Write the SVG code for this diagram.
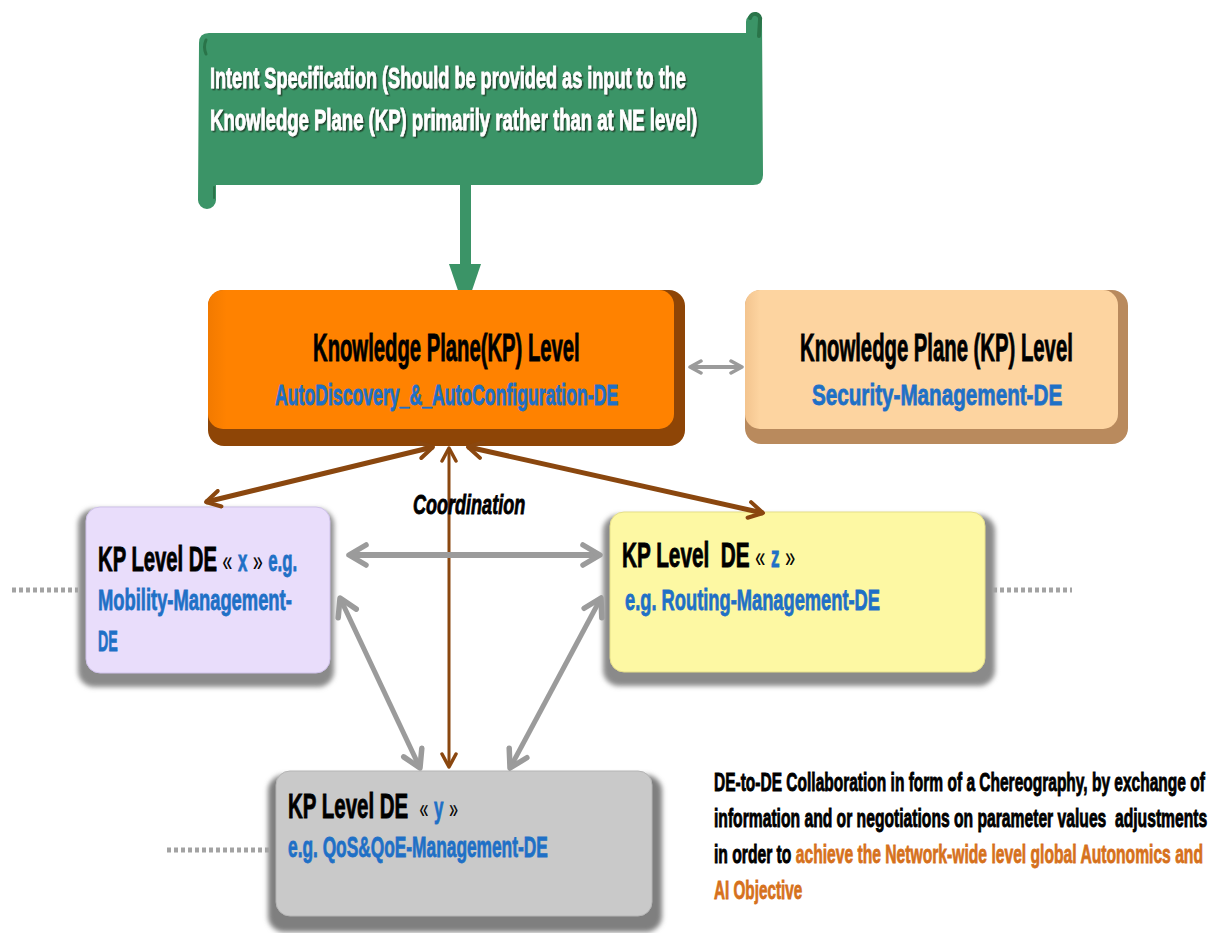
<svg xmlns="http://www.w3.org/2000/svg" width="1217" height="933" viewBox="0 0 1217 933">
  <style>
    .t { font-family: "Liberation Sans", Arial, sans-serif; font-weight: bold; }
    .blk { fill: #000000; stroke: #000000; stroke-width: 0.9; }
    .blu { fill: #1f70c6; stroke: #1f70c6; stroke-width: 0.8; }
    .org { fill: #d6711c; stroke: #d6711c; stroke-width: 0.8; }
    .wht { fill: #ffffff; stroke: #ffffff; stroke-width: 0.8; }
    .thin { stroke-width: 0.2; font-weight: normal; }
    .dots { stroke: #a3a3a3; stroke-width: 5; stroke-dasharray: 4 3; fill: none; }
    .brown { stroke: #8a470f; fill: none; }
    .grey { stroke: #9b9b9b; fill: none; }
  </style>
  <defs>
    <filter id="blur" x="-10%" y="-10%" width="120%" height="120%">
      <feGaussianBlur stdDeviation="2.5"/>
    </filter>
    <filter id="txtShadow" x="-5%" y="-20%" width="110%" height="140%">
      <feDropShadow dx="1.5" dy="1.5" stdDeviation="0.6" flood-color="#1b3d2a" flood-opacity="0.9"/>
    </filter>
    <linearGradient id="orangeFace" x1="0" y1="0" x2="1" y2="0">
      <stop offset="0" stop-color="#f27a00"/>
      <stop offset="0.04" stop-color="#ff8200"/>
      <stop offset="1" stop-color="#ff8200"/>
    </linearGradient>
    <linearGradient id="peachFace" x1="0" y1="0" x2="1" y2="0">
      <stop offset="0" stop-color="#f3c48e"/>
      <stop offset="0.04" stop-color="#fdd4a0"/>
      <stop offset="1" stop-color="#fdd4a0"/>
    </linearGradient>
    <marker id="brownHead" markerUnits="userSpaceOnUse" viewBox="0 0 20 20" markerWidth="20" markerHeight="20" refX="17" refY="10" orient="auto-start-reverse">
      <path d="M3,2 L17,10 L3,18" stroke="#8a470f" stroke-width="4" fill="none" stroke-linecap="round" stroke-linejoin="round"/>
    </marker>
    <marker id="brownHeadThin" markerUnits="userSpaceOnUse" viewBox="0 0 18 18" markerWidth="18" markerHeight="18" refX="16" refY="9" orient="auto-start-reverse">
      <path d="M3,2 L16,9 L3,16" stroke="#8a470f" stroke-width="3.5" fill="none" stroke-linecap="round" stroke-linejoin="round"/>
    </marker>
    <marker id="greyHead" markerUnits="userSpaceOnUse" viewBox="0 0 26 26" markerWidth="26" markerHeight="26" refX="22" refY="13" orient="auto-start-reverse">
      <path d="M5,3 L22,13 L5,23" stroke="#9b9b9b" stroke-width="5.5" fill="none" stroke-linecap="round" stroke-linejoin="round"/>
    </marker>
    <marker id="greyHeadSmall" markerUnits="userSpaceOnUse" viewBox="0 0 16 16" markerWidth="16" markerHeight="16" refX="14" refY="8" orient="auto-start-reverse">
      <path d="M3,2 L14,8 L3,14" stroke="#9b9b9b" stroke-width="3.5" fill="none" stroke-linecap="round" stroke-linejoin="round"/>
    </marker>
  </defs>

  <rect width="1217" height="933" fill="#ffffff"/>

  <!-- Intent specification scroll banner -->
  <g id="intent-spec">
    <path d="M746,22 A8,8 0 0 1 762,22 L763,175 Q763,185 753,185 L216,185 L216,200 A9,9 0 0 1 198,200 L199,43 Q199,33 209,33 L746,33 Z" fill="#3b9467"/>
    <path d="M750,18 A5,5 0 0 1 760,20 L759,36" stroke="#2a7449" stroke-width="4" fill="none" stroke-linecap="round"/>
    <path d="M206,40 Q203,47 206,54" stroke="#2a7449" stroke-width="3" fill="none" stroke-linecap="round"/>
    <path d="M214,187 L214,198" stroke="#2a7449" stroke-width="2" fill="none" stroke-linecap="round"/>
    <g filter="url(#txtShadow)">
      <text class="t wht" transform="translate(210,88) scale(0.6,1)" font-size="29" textLength="793" lengthAdjust="spacingAndGlyphs">Intent Specification (Should be provided as input to the</text>
      <text class="t wht" transform="translate(210,130) scale(0.6,1)" font-size="29" textLength="812" lengthAdjust="spacingAndGlyphs">Knowledge Plane (KP) primarily rather than at NE level)</text>
    </g>
    <!-- input arrow into the KP level -->
    <rect x="460" y="184" width="11" height="81" fill="#3b9467"/>
    <polygon points="449,264 481,264 465,311" fill="#3b9467"/>
  </g>

  <!-- KP level: AutoDiscovery & AutoConfiguration DE -->
  <g id="kp-autodiscovery">
    <rect x="208" y="290" width="477" height="156" rx="16" fill="#8e4506"/>
    <rect x="208" y="290" width="466" height="139" rx="15" fill="url(#orangeFace)"/>
    <text class="t blk" transform="translate(313,361) scale(0.55,1)" font-size="38" textLength="485" lengthAdjust="spacingAndGlyphs">Knowledge Plane(KP) Level</text>
    <text class="t blu" transform="translate(275,405) scale(0.6,1)" font-size="29" textLength="572" lengthAdjust="spacingAndGlyphs">AutoDiscovery_&amp;_AutoConfiguration-DE</text>
  </g>

  <!-- KP level: Security Management DE -->
  <g id="kp-security">
    <rect x="745" y="290" width="383" height="154" rx="16" fill="#b98a5d"/>
    <rect x="745" y="290" width="373" height="139" rx="15" fill="url(#peachFace)"/>
    <text class="t blk" transform="translate(800,361) scale(0.55,1)" font-size="38" textLength="496" lengthAdjust="spacingAndGlyphs">Knowledge Plane (KP) Level</text>
    <text class="t blu" transform="translate(812,405) scale(0.6,1)" font-size="29" textLength="417" lengthAdjust="spacingAndGlyphs">Security-Management-DE</text>
  </g>

  <!-- DE x -->
  <g id="de-x">
    <rect x="78" y="509" width="256" height="178" rx="16" fill="#8a8a8a" filter="url(#blur)"/>
    <rect x="86" y="507" width="244" height="166" rx="14" fill="#e9ddfb" stroke="#cfc2ea" stroke-width="1"/>
    <text class="t blk" transform="translate(98,571) scale(0.55,1)" font-size="35" textLength="362" lengthAdjust="spacingAndGlyphs">KP Level DE <tspan class="thin" font-size="30">«</tspan> <tspan class="blu" font-size="29">x</tspan> <tspan class="thin" font-size="30">»</tspan> <tspan class="blu" font-size="29">e.g.</tspan></text>
    <text class="t blu" transform="translate(98,610) scale(0.6,1)" font-size="29" textLength="323" lengthAdjust="spacingAndGlyphs">Mobility-Management-</text>
    <text class="t blu" transform="translate(98,651) scale(0.6,1)" font-size="29" textLength="33" lengthAdjust="spacingAndGlyphs">DE</text>
  </g>

  <!-- DE z -->
  <g id="de-z">
    <rect x="603" y="515" width="392" height="171" rx="16" fill="#8a8a8a" filter="url(#blur)"/>
    <rect x="610" y="512" width="375" height="160" rx="14" fill="#fdf8a3" stroke="#e6df8a" stroke-width="1"/>
    <text class="t blk" transform="translate(622,567) scale(0.55,1)" font-size="35" textLength="315" lengthAdjust="spacingAndGlyphs" xml:space="preserve">KP Level  DE <tspan class="thin" font-size="30">«</tspan> <tspan class="blu" font-size="29">z</tspan> <tspan class="thin" font-size="30">»</tspan></text>
    <text class="t blu" transform="translate(625,610) scale(0.6,1)" font-size="29" textLength="425" lengthAdjust="spacingAndGlyphs">e.g. Routing-Management-DE</text>
  </g>

  <!-- DE y -->
  <g id="de-y">
    <rect x="268" y="775" width="394" height="157" rx="16" fill="#7f7f7f" filter="url(#blur)"/>
    <rect x="276" y="771" width="376" height="145" rx="14" fill="#c9c9c9" stroke="#b5b5b5" stroke-width="1"/>
    <text class="t blk" transform="translate(288,818) scale(0.55,1)" font-size="35" textLength="309" lengthAdjust="spacingAndGlyphs" xml:space="preserve">KP Level DE  <tspan class="thin" font-size="27">«</tspan> <tspan class="blu" font-size="29">y</tspan> <tspan class="thin" font-size="27">»</tspan></text>
    <text class="t blu" transform="translate(288,857) scale(0.6,1)" font-size="29" textLength="433" lengthAdjust="spacingAndGlyphs">e.g. QoS&amp;QoE-Management-DE</text>
  </g>

  <!-- links to further DEs -->
  <g id="continuations">
    <line class="dots" x1="12" y1="590" x2="78" y2="590"/>
    <line class="dots" x1="993" y1="590" x2="1072" y2="590"/>
    <line class="dots" x1="167" y1="850" x2="270" y2="850"/>
  </g>

  <!-- connectors -->
  <g id="connectors">
    <line class="grey" x1="690" y1="367" x2="742" y2="367" stroke-width="4" marker-start="url(#greyHeadSmall)" marker-end="url(#greyHeadSmall)"/>
    <line class="brown" x1="433" y1="447" x2="206" y2="502" stroke-width="5" marker-start="url(#brownHead)" marker-end="url(#brownHead)"/>
    <line class="brown" x1="468" y1="447" x2="763" y2="513" stroke-width="5" marker-start="url(#brownHead)" marker-end="url(#brownHead)"/>
    <line class="brown" x1="449" y1="448" x2="449" y2="767" stroke-width="3" marker-start="url(#brownHeadThin)" marker-end="url(#brownHeadThin)"/>
    <line class="grey" x1="349" y1="555" x2="600" y2="555" stroke-width="6" marker-start="url(#greyHead)" marker-end="url(#greyHead)"/>
    <line class="grey" x1="340" y1="598" x2="420" y2="768" stroke-width="5" marker-start="url(#greyHead)" marker-end="url(#greyHead)"/>
    <line class="grey" x1="601" y1="598" x2="510" y2="768" stroke-width="5" marker-start="url(#greyHead)" marker-end="url(#greyHead)"/>
    <text class="t blk" transform="translate(413,514) scale(0.6,1)" font-size="28" font-style="italic" textLength="187" lengthAdjust="spacingAndGlyphs">Coordination</text>
  </g>

  <!-- explanatory note -->
  <g id="note">
    <text class="t blk" transform="translate(714,791) scale(0.6,1)" font-size="25" textLength="818" lengthAdjust="spacingAndGlyphs">DE-to-DE Collaboration in form of a Chereography, by exchange of</text>
    <text class="t blk" transform="translate(714,827) scale(0.6,1)" font-size="25" textLength="822" lengthAdjust="spacingAndGlyphs" xml:space="preserve">information and or negotiations on parameter values  adjustments</text>
    <text class="t blk" transform="translate(714,863) scale(0.6,1)" font-size="25" textLength="815" lengthAdjust="spacingAndGlyphs">in order to <tspan class="org">achieve the Network-wide level global Autonomics and</tspan></text>
    <text class="t org" transform="translate(714,899) scale(0.6,1)" font-size="25" textLength="147" lengthAdjust="spacingAndGlyphs">AI Objective</text>
  </g>
</svg>
